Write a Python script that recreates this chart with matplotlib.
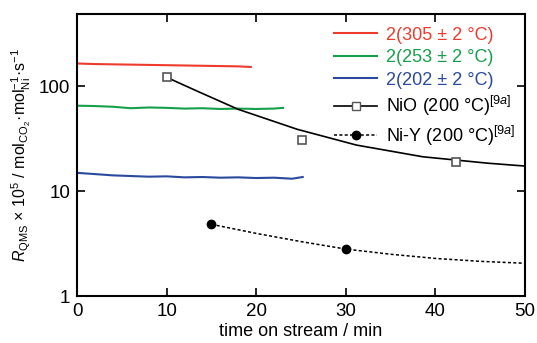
import matplotlib
matplotlib.use("Agg")
import matplotlib.pyplot as plt
from matplotlib.ticker import FixedLocator, NullLocator, FixedFormatter

# =============================================================================
# DATA
# =============================================================================

red_time = [0, 2, 4, 6, 8, 10, 12, 14, 16, 18, 19.4]
red_rate = [164, 162, 161, 160, 159, 158, 157, 156, 155, 154, 152]

green_time = [0, 2, 4, 6, 8, 10, 12, 14, 16, 18, 20, 22, 23.0]
green_rate = [65, 64.5, 63.5, 61.5, 62.5, 62, 61, 61.5, 60.5, 61, 60.5, 61, 62]

blue_time = [0, 2, 4, 6, 8, 10, 12, 14, 16, 18, 20, 22, 24, 25.2]
blue_rate = [14.9, 14.5, 14.1, 13.9, 13.7, 13.8, 13.5, 13.6, 13.4, 13.5, 13.3, 13.4, 13.1, 13.6]

nio_marker_time = [10, 25.1, 42.3]
nio_marker_rate = [123, 30.6, 18.8]
nio_fit_time = [10.3, 13.6, 18, 24.6, 31.2, 38.6, 45.9, 50]
nio_fit_rate = [118, 88, 60, 38.7, 27.4, 21.2, 18.4, 17.3]

niy_marker_time = [15, 30]
niy_marker_rate = [4.82, 2.8]
niy_fit_time = [15, 20, 25, 30, 35, 40, 45, 50]
niy_fit_rate = [4.82, 3.95, 3.3, 2.8, 2.5, 2.28, 2.14, 2.05]

labels = [
    "2(305 \u00b1 2 \u00b0C)",
    "2(253 \u00b1 2 \u00b0C)",
    "2(202 \u00b1 2 \u00b0C)",
    "NiO (200 \u00b0C)$^{[9a]}$",
    "Ni-Y (200 \u00b0C)$^{[9a]}$",
]

RED = "#ee3b2e"
GREEN = "#17a04b"
BLUE = "#2b4a9e"

# =============================================================================
# STYLE
# =============================================================================

plt.rcParams["font.family"] = ["Liberation Sans", "DejaVu Sans"]
plt.rcParams["mathtext.fontset"] = "custom"
plt.rcParams["mathtext.rm"] = "Liberation Sans"
plt.rcParams["mathtext.it"] = "Liberation Sans:italic"

# =============================================================================
# FIGURE
# =============================================================================

fig = plt.figure(figsize=(5.37, 3.43), dpi=100)
ax = fig.add_axes([0.1434, 0.137, 0.834, 0.822])

ax.plot(red_time, red_rate, color=RED, lw=1.5, label=labels[0])
ax.plot(green_time, green_rate, color=GREEN, lw=1.5, label=labels[1])
ax.plot(blue_time, blue_rate, color=BLUE, lw=1.5, label=labels[2])

ax.plot(nio_fit_time, nio_fit_rate, color="black", lw=1.2)
ax.plot(nio_marker_time, nio_marker_rate, ls="none", marker="s", ms=6,
        mfc="white", mec="#555555", mew=1.2)

ax.plot(niy_fit_time, niy_fit_rate, color="black", lw=1.1, ls=(0, (2, 1.5)))
ax.plot(niy_marker_time, niy_marker_rate, ls="none", marker="o", ms=6,
        color="black")

# legend proxies
ax.plot([], [], color="black", lw=1.2, marker="s", ms=6, mfc="white",
        mec="#555555", label=labels[3])
ax.plot([], [], color="black", lw=1.1, ls=(0, (2, 1.5)), marker="o", ms=6,
        label=labels[4])

ax.set_yscale("log")
ax.set_xlim(0, 50)
ax.set_ylim(1, 485)

ax.xaxis.set_major_locator(FixedLocator([0, 10, 20, 30, 40, 50]))
ax.yaxis.set_major_locator(FixedLocator([1, 10, 100]))
ax.yaxis.set_major_formatter(FixedFormatter(["1", "10", "100"]))
ax.yaxis.set_minor_locator(NullLocator())

ax.tick_params(direction="in", length=6, width=1.2, labelsize=13.5,
               top=True, right=True, pad=5)
for spine in ax.spines.values():
    spine.set_linewidth(1.5)

ax.set_xlabel("time on stream / min", fontsize=13, labelpad=2)
ax.set_ylabel(
    "$R_{\\mathrm{QMS}}$ \u00d7 10$^{5}$ / mol$_{\\mathrm{CO_2}}$\u00b7"
    "mol$_{\\mathrm{Ni}}^{-1}$\u00b7s$^{-1}$",
    fontsize=11.5, labelpad=4
)

leg = ax.legend(loc="upper right", frameon=False, fontsize=13,
                handlelength=2.4, handletextpad=0.5, labelspacing=0.3,
                borderaxespad=0.0, borderpad=0.0,
                bbox_to_anchor=(0.98, 0.955))
for text, color in zip(leg.get_texts(), [RED, GREEN, BLUE, "black", "black"]):
    text.set_color(color)

fig.savefig("out.png", dpi=100)
